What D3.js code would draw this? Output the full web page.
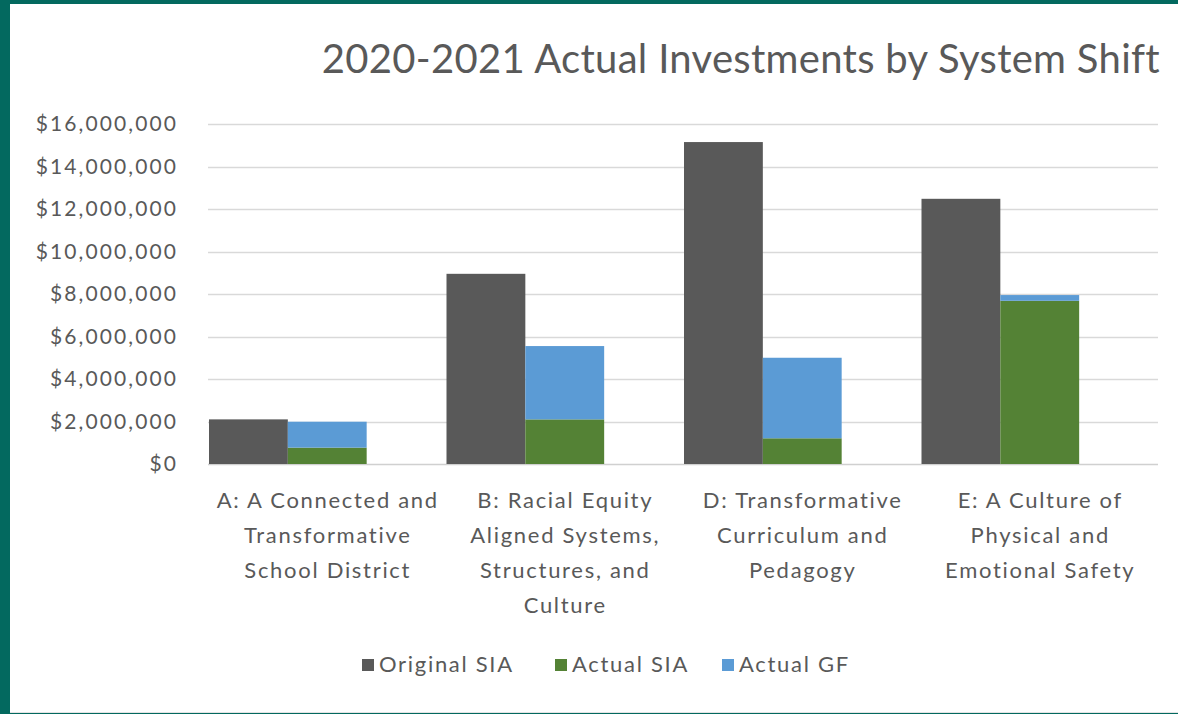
<!DOCTYPE html>
<html>
<head>
<meta charset="utf-8">
<script src="https://cdn.jsdelivr.net/npm/d3@7"></script>
<style>
  html, body { margin: 0; padding: 0; background: #03695f; }
  svg { display: block; }
  text { font-family: Lato, "Open Sans", sans-serif; fill: #595959; }
</style>
</head>
<body>
<svg id="chart" width="1178" height="714"></svg>
<script>
// categorias (las etiquetas van partidas en lineas)
var categories = ["A", "B", "D", "E"];
var catLabels = [
    ["A: A Connected and", "Transformative", "School District"],
    ["B: Racial Equity", "Aligned Systems,", "Structures, and", "Culture"],
    ["D: Transformative", "Curriculum and", "Pedagogy"],
    ["E: A Culture of", "Physical and", "Emotional Safety"]
];
var originalSIA = [2100000, 8950000, 15150000, 12480000];
var actualSIA   = [770000, 2100000, 1210000, 7680000];
var actualGF    = [1220000, 3450000, 3790000, 270000];
var yTicks = [0, 2000000, 4000000, 6000000, 8000000, 10000000, 12000000, 14000000, 16000000];
var seriesNames = ["Original SIA", "Actual SIA", "Actual GF"];
var colors = ["#595959", "#548235", "#5b9bd5"];

var svg = d3.select("#chart");

// fondo blanco, borde verde arriba e izquierda
svg.append("rect")
    .attr("x", 10).attr("y", 4)
    .attr("width", 1168).attr("height", 708)
    .style("fill", "#ffffff");
svg.append("line")
    .attr("x1", 10).attr("x2", 1178)
    .attr("y1", 712.5).attr("y2", 712.5)
    .style("stroke", "#e3e3e3");

var x = d3.scaleBand().domain(categories).range([208, 1158]).padding(0);
// tres huecos por categoria: original, apilado, vacio
var xs = d3.scaleBand().domain(["orig", "stack", "empty"]).range([1, x.bandwidth()]).padding(0);
var y = d3.scaleLinear().domain([0, 16000000]).range([464, 124]);

// titulo
svg.append("text")
    .attr("x", 1160).attr("y", 73)
    .attr("text-anchor", "end")
    .style("font-size", "40px")
    .style("letter-spacing", "0.3px")
    .text("2020-2021 Actual Investments by System Shift");

// rejilla
svg.append("g")
    .selectAll("line")
    .data(yTicks)
    .enter()
    .append("line")
    .attr("x1", 208).attr("x2", 1158)
    .attr("y1", function(d) {return Math.round(y(d)) + 0.5;})
    .attr("y2", function(d) {return Math.round(y(d)) + 0.5;})
    .style("stroke", function(d) {return d === 0 ? "#d0d0d0" : "#d9d9d9";})
    .style("stroke-width", 1.5);

// eje y
var fmt = d3.format("$,.0f");
var yAxis = svg.append("g")
    .attr("transform", "translate(178,0)")
    .call(d3.axisLeft(y).tickValues(yTicks).tickFormat(fmt).tickSize(0).tickPadding(0));
yAxis.select(".domain").remove();
yAxis.selectAll("text")
    .style("font-size", "21px")
    .style("letter-spacing", "2.1px")
    .style("font-family", "Lato, 'Open Sans', sans-serif")
    .style("fill", "#595959");

// barras originales
svg.append("g")
    .selectAll("rect")
    .data(categories)
    .enter()
    .append("rect")
    .attr("x", function(d) {return x(d) + xs("orig");})
    .attr("width", xs.bandwidth())
    .attr("y", function(d, i) {return y(originalSIA[i]);})
    .attr("height", function(d, i) {return y(0) - y(originalSIA[i]);})
    .style("fill", colors[0]);

// apiladas: Actual SIA + Actual GF
var stackRows = categories.map(function(c, i) {
    return {cat: c, sia: actualSIA[i], gf: actualGF[i]};
});
var stacked = d3.stack().keys(["sia", "gf"])(stackRows);

svg.append("g")
    .selectAll("g")
    .data(stacked)
    .enter()
    .append("g")
    .style("fill", function(d, i) {return colors[i + 1];})
    .selectAll("rect")
    .data(function(d) {return d;})
    .enter()
    .append("rect")
    .attr("x", function(d) {return x(d.data.cat) + xs("stack");})
    .attr("width", xs.bandwidth())
    .attr("y", function(d) {return y(d[1]);})
    .attr("height", function(d) {return y(d[0]) - y(d[1]);});

// etiquetas de categoria
svg.append("g")
    .selectAll("text")
    .data(categories)
    .enter()
    .append("text")
    .attr("text-anchor", "middle")
    .style("font-size", "22px")
    .style("letter-spacing", "1.7px")
    .attr("transform", function(d) {return "translate(" + (x(d) + x.bandwidth() / 2 + 1) + ",508)";})
    .selectAll("tspan")
    .data(function(d, i) {return catLabels[i];})
    .enter()
    .append("tspan")
    .attr("x", 0)
    .attr("y", function(d, i) {return i * 35;})
    .text(function(d) {return d;});

// leyenda
var legX = [362, 555, 722];
var leg = svg.append("g")
    .selectAll("g")
    .data(seriesNames)
    .enter()
    .append("g")
    .attr("transform", function(d, i) {return "translate(" + legX[i] + ",659)";});
leg.append("rect")
    .attr("width", 12).attr("height", 12)
    .style("fill", function(d, i) {return colors[i];});
leg.append("text")
    .attr("x", 17).attr("y", 13)
    .style("font-size", "22px")
    .style("letter-spacing", "1.7px")
    .text(function(d) {return d;});
</script>
</body>
</html>
